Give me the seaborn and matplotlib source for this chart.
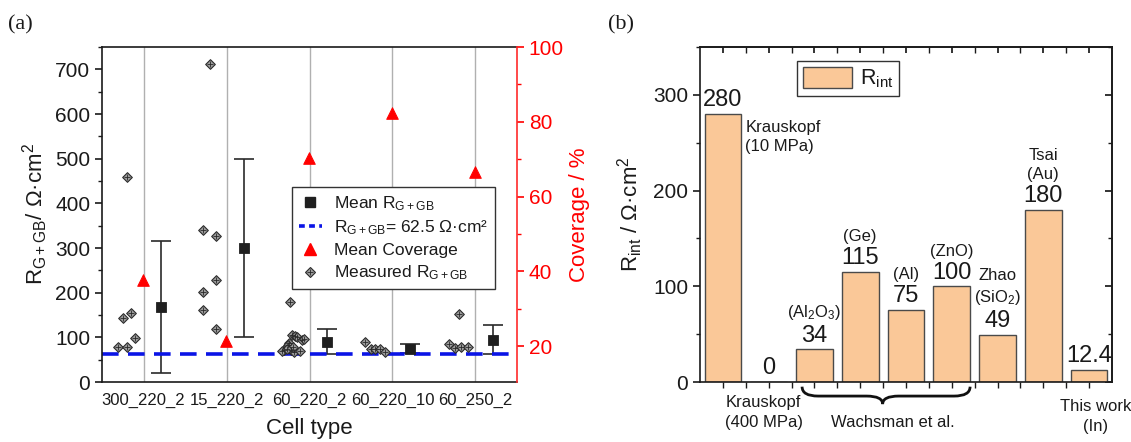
import numpy as np
import pandas as pd
import matplotlib
matplotlib.use("Agg")
import matplotlib.pyplot as plt
import matplotlib.transforms as mtransforms
import seaborn as sns
from matplotlib.lines import Line2D
from matplotlib.patches import Patch, PathPatch
from matplotlib.path import Path
from matplotlib.legend_handler import HandlerTuple
from matplotlib.ticker import MultipleLocator, FixedLocator

# ---------------- data: panel (a) ----------------
cell_types = ["300_220_2", "15_220_2", "60_220_2", "60_220_10", "60_250_2"]
mean_r = [168, 300, 90, 75, 94]
mean_r_low = [21, 100, 62, 66, 62]
mean_r_high = [315, 500, 118, 85, 127]
coverage = [37.7, 21.3, 70.2, 82.3, 66.7]
r_reference = 62.5

meas_300_220_2 = [78, 78, 144, 154, 98, 459]
jit_300_220_2 = [-0.31, -0.20, -0.25, -0.15, -0.10, -0.20]
meas_15_220_2 = [340, 327, 202, 229, 162, 119, 713]
jit_15_220_2 = [-0.28, -0.125, -0.28, -0.125, -0.28, -0.125, -0.20]
meas_60_220_2 = [178, 106, 103, 100, 93, 97, 88, 82, 71, 69, 72, 67, 78, 70, 74]
jit_60_220_2 = [-0.24, -0.21, -0.17, -0.145, -0.085, -0.065, -0.25, -0.265,
                -0.31, -0.33, -0.225, -0.19, -0.20, -0.12, -0.27]
meas_60_220_10 = [90, 75, 75, 73, 67]
jit_60_220_10 = [-0.33, -0.265, -0.205, -0.145, -0.085]
meas_60_250_2 = [86, 77, 153, 78, 78]
jit_60_250_2 = [-0.32, -0.25, -0.20, -0.17, -0.09]

# ---------------- data: panel (b) ----------------
refs = ["Krauskopf 10 MPa", "Krauskopf 400 MPa", "Wachsman Al2O3", "Wachsman Ge",
        "Wachsman Al", "Wachsman ZnO", "Zhao SiO2", "Tsai Au", "This work In"]
r_int = [280, 0, 34, 115, 75, 100, 49, 180, 12.4]
r_int_labels = ["280", "0", "34", "115", "75", "100", "49", "180", "12.4"]
bar_notes = {0: "Krauskopf\n(10 MPa)", 2: "(Al$_2$O$_3$)", 3: "(Ge)", 4: "(Al)",
             5: "(ZnO)", 6: "Zhao\n(SiO$_2$)", 7: "Tsai\n(Au)"}

# ---------------- style ----------------
sns.set_theme(style="ticks")
ink = "#1a1a1a"
plt.rcParams.update({
    "font.family": ["Liberation Sans", "DejaVu Sans"],
    "mathtext.fontset": "custom",
    "mathtext.rm": "Liberation Sans",
    "mathtext.it": "Liberation Sans:italic",
    "mathtext.bf": "Liberation Sans:bold",
    "mathtext.default": "regular",
    "text.color": ink, "axes.labelcolor": ink,
    "xtick.color": ink, "ytick.color": ink,
    "axes.edgecolor": ink, "axes.linewidth": 1.2,
})

fig = plt.figure(figsize=(11.31, 4.42), dpi=100)
axA = fig.add_axes([102 / 1131, 60 / 442, 415 / 1131, 335 / 442])
axB = fig.add_axes([700 / 1131, 60 / 442, 412 / 1131, 335 / 442])

# ================= panel (a) =================
groups = [meas_300_220_2, meas_15_220_2, meas_60_220_2, meas_60_220_10, meas_60_250_2]
jits = [jit_300_220_2, jit_15_220_2, jit_60_220_2, jit_60_220_10, jit_60_250_2]
rows = []
for i, (vals, jj) in enumerate(zip(groups, jits)):
    for v, j in zip(vals, jj):
        rows.append({"cell": cell_types[i], "x": i + j, "value": v})
meas_df = pd.DataFrame(rows)

axA.set_xlim(-0.5, 4.5)
axA.set_ylim(0, 750)
axA.xaxis.grid(True, color="#b0b0b0", lw=1)
axA.yaxis.grid(False)
axA.set_axisbelow(True)

axA.axhline(r_reference, color="#0a14e6", lw=2.6, dashes=(4.6, 2.6), zorder=2.5)

sns.scatterplot(data=meas_df, x="x", y="value", marker="D", s=24, color="#9c9c9c",
                edgecolor="#2a2a2a", linewidth=0.8, ax=axA, zorder=3, legend=False)
sns.scatterplot(data=meas_df, x="x", y="value", marker="+", s=14, color="#2a2a2a",
                linewidth=0.6, ax=axA, zorder=3.1, legend=False)

mean_x = np.arange(len(cell_types)) + 0.21
mean_arr = np.array(mean_r, dtype=float)
yerr = [mean_arr - np.array(mean_r_low), np.array(mean_r_high) - mean_arr]
axA.errorbar(mean_x, mean_arr, yerr=yerr, fmt="none", ecolor="#2a2a2a",
             elinewidth=1.2, capsize=7.5, capthick=1.2, zorder=2)
sns.scatterplot(x=mean_x, y=mean_arr, marker="s", s=55, color="#1f1f1f",
                edgecolor="#1f1f1f", ax=axA, zorder=4, legend=False)

axA.set_xticks(range(len(cell_types)))
axA.set_xticklabels(cell_types, fontsize=12)
axA.tick_params(axis="x", length=0, pad=8)
axA.yaxis.set_major_locator(MultipleLocator(100))
axA.yaxis.set_minor_locator(MultipleLocator(50))
axA.tick_params(axis="y", which="major", length=5, width=1.2, labelsize=15, direction="out")
axA.tick_params(axis="y", which="minor", length=3, width=1.0, direction="out", left=True)
axA.set_xlabel("Cell type", fontsize=16, labelpad=7)
axA.set_ylabel(r"R$_\mathregular{G+GB}$/ Ω·cm$^\mathregular{2}$", fontsize=16, labelpad=4)

axA2 = axA.twinx()
sns.scatterplot(x=np.arange(len(cell_types)), y=coverage, marker="^", s=70,
                color="#ff0000", edgecolor="#ff0000", ax=axA2, zorder=5, legend=False)
axA2.set_ylim(10.4, 100)
axA2.yaxis.set_major_locator(FixedLocator([20, 40, 60, 80, 100]))
axA2.yaxis.set_minor_locator(FixedLocator([30, 50, 70, 90]))
axA2.tick_params(axis="y", which="major", length=5, width=1.2, labelsize=15,
                 colors="#ff0000", direction="out")
axA2.tick_params(axis="y", which="minor", length=3, width=1.0, colors="#ff0000",
                 direction="out", right=True)
axA2.set_ylabel("Coverage / %", fontsize=16, color="#ff0000", labelpad=4)
axA2.spines["right"].set_color("#ff2a2a")
axA2.spines["right"].set_linewidth(1.2)
axA.spines["right"].set_visible(False)
for s in ["top", "left", "bottom"]:
    axA2.spines[s].set_visible(False)

diamond_h = Line2D([], [], ls="none", marker="D", ms=5, mfc="#9c9c9c", mec="#2a2a2a", mew=0.8)
plus_h = Line2D([], [], ls="none", marker="+", ms=4, mec="#2a2a2a", mew=0.6)
legA_handles = [
    Line2D([], [], ls="none", marker="s", ms=7.5, color="#1f1f1f"),
    Line2D([], [], color="#0a14e6", lw=2.6, dashes=(1.6, 1.2)),
    Line2D([], [], ls="none", marker="^", ms=8.5, color="#ff0000"),
    (diamond_h, plus_h),
]
legA_labels = [r"Mean R$_\mathregular{G+GB}$",
               r"R$_\mathregular{G+GB}$= 62.5 Ω·cm²",
               "Mean Coverage",
               r"Measured R$_\mathregular{G+GB}$"]
legA = axA2.legend(legA_handles, legA_labels, loc="upper left",
                   bbox_to_anchor=(0.458, 0.582), borderaxespad=0, fontsize=12.5,
                   frameon=True, fancybox=False, edgecolor="#333333", framealpha=1,
                   handlelength=1.3, handletextpad=0.7, labelspacing=0.33,
                   borderpad=0.4, handler_map={tuple: HandlerTuple(ndivide=None, pad=-1.3)})
legA.get_frame().set_linewidth(1.0)
legA.set_zorder(10)

# ================= panel (b) =================
bar_df = pd.DataFrame({"ref": refs, "rint": r_int})
sns.barplot(data=bar_df, x="ref", y="rint", color="#FAC898", saturation=1,
            edgecolor="#4a4a4a", linewidth=1.0, width=0.8, ax=axB)
axB.set_xlim(-0.5, 8.5)
axB.set_ylim(0, 350)
axB.bar_label(axB.containers[0], labels=r_int_labels, padding=2, fontsize=17)

for i, txt in bar_notes.items():
    if i == 0:
        axB.annotate(txt, xy=(i + 0.4, r_int[i]), xytext=(3, -4), textcoords="offset points",
                     ha="left", va="top", fontsize=12, linespacing=1.35)
    else:
        axB.annotate(txt, xy=(i, r_int[i]), xytext=(0, 20), textcoords="offset points",
                     ha="center", va="bottom", fontsize=12, linespacing=1.35)

axB.set_xticks(range(len(refs)))
axB.set_xticklabels([""] * len(refs))
axB.xaxis.set_minor_locator(FixedLocator(np.arange(0.5, 8, 1.0)))
axB.tick_params(axis="x", which="both", length=4, width=1.0, direction="out")
axB.yaxis.set_major_locator(MultipleLocator(100))
axB.yaxis.set_minor_locator(MultipleLocator(50))
axB.tick_params(axis="y", which="major", length=5, width=1.2, labelsize=15, direction="out")
axB.tick_params(axis="y", which="minor", length=3, width=1.0, direction="out", left=True)
axB.set_xlabel("")
axB.set_ylabel(r"R$_\mathregular{int}$ / Ω·cm$^\mathregular{2}$", fontsize=16, labelpad=6)
for s in ["top", "right"]:
    axB.spines[s].set_visible(True)
    axB.spines[s].set_linewidth(1.2)

sec_top = axB.secondary_xaxis("top")
sec_top.set_xticks(range(len(refs)))
sec_top.xaxis.set_minor_locator(FixedLocator(np.arange(0.5, 8, 1.0)))
sec_top.tick_params(axis="x", which="both", direction="in", length=4, labeltop=False)
sec_right = axB.secondary_yaxis("right")
sec_right.yaxis.set_major_locator(MultipleLocator(100))
sec_right.yaxis.set_minor_locator(MultipleLocator(50))
sec_right.tick_params(axis="y", which="major", direction="in", length=5, labelright=False)
sec_right.tick_params(axis="y", which="minor", direction="in", length=3, labelright=False)

legB = axB.legend([Patch(facecolor="#FAC898", edgecolor="#4a4a4a", linewidth=1.0)],
                  [r"R$_\mathregular{int}$"], loc="upper left", bbox_to_anchor=(0.235, 0.958),
                  borderaxespad=0, fontsize=15.5, frameon=True, fancybox=False,
                  edgecolor="#333333", framealpha=1, handlelength=2.3, handleheight=1.1,
                  handletextpad=0.35, borderpad=0.28)
legB.get_frame().set_linewidth(1.0)

trB = mtransforms.blended_transform_factory(axB.transData, axB.transAxes)
axB.text(0.89, -0.04, "Krauskopf\n(400 MPa)", transform=trB, ha="center", va="top",
         fontsize=12, linespacing=1.35)
axB.text(3.71, -0.12, "Wachsman et al.", transform=trB, ha="center", va="center", fontsize=12)
axB.text(8.15, -0.052, "This work\n(In)", transform=trB, ha="center", va="top",
         fontsize=12, linespacing=1.35, clip_on=False)

x0, x1, xm, d = 1.73, 5.40, 3.49, 0.35
ytop, ymid, ybot = -0.014, -0.042, -0.066
verts = [(x0, ytop), (x0, ymid), (x0 + d, ymid), (xm - d, ymid), (xm, ymid), (xm, ybot),
         (xm, ymid), (xm + d, ymid), (x1 - d, ymid), (x1, ymid), (x1, ytop)]
codes = [Path.MOVETO, Path.CURVE3, Path.CURVE3, Path.LINETO, Path.CURVE3, Path.CURVE3,
         Path.CURVE3, Path.CURVE3, Path.LINETO, Path.CURVE3, Path.CURVE3]
brace = PathPatch(Path(verts, codes), facecolor="none", edgecolor="#111111", lw=2.0,
                  transform=trB, clip_on=False)
axB.add_patch(brace)

fig.text(8 / 1131, 1 - 25 / 442, "(a)", family=["Liberation Serif", "DejaVu Serif"],
         fontsize=16, va="center", ha="left")
fig.text(608 / 1131, 1 - 25 / 442, "(b)", family=["Liberation Serif", "DejaVu Serif"],
         fontsize=16, va="center", ha="left")

fig.savefig("out.png", dpi=100)
